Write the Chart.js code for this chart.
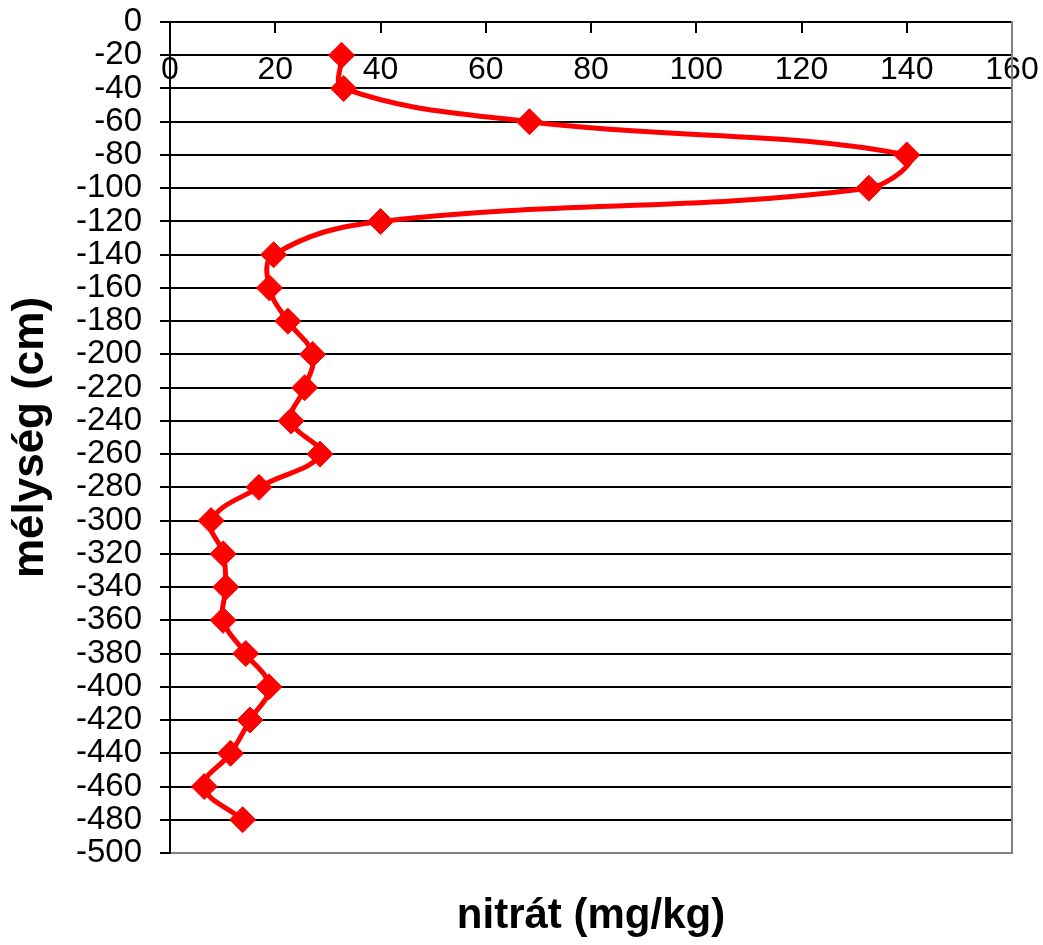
<!DOCTYPE html>
<html lang="hu">
<head>
<meta charset="utf-8">
<title>Nitrát a talajszelvényben</title>
<script src="https://cdn.jsdelivr.net/npm/chart.js@4.4.1/dist/chart.umd.min.js"></script>
<style>
  html, body { margin: 0; padding: 0; background: #ffffff; }
  canvas { display: block; }
</style>
</head>
<body>
<canvas id="chart" width="1043" height="945"></canvas>
<script>
// Sampling depth of each soil layer (cm, negative = below surface)
const depths = [-20, -40, -60, -80, -100, -120, -140, -160, -180, -200, -220, -240,
                -260, -280, -300, -320, -340, -360, -380, -400, -420, -440, -460, -480];

// Nitrate content measured in each layer (mg/kg)
const nitrate = [32.6, 33.0, 68.3, 140.0, 132.8, 40.0, 19.7, 18.9, 22.4, 27.1, 25.6, 23.0,
                 28.5, 16.9, 7.8, 10.1, 10.6, 10.1, 14.4, 18.8, 15.2, 11.5, 6.5, 13.8];

// Axis tick values
const nitrateTicks = [0, 20, 40, 60, 80, 100, 120, 140, 160];
const depthTicks = [-500, -480, -460, -440, -420, -400, -380, -360, -340, -320, -300, -280, -260,
                    -240, -220, -200, -180, -160, -140, -120, -100, -80, -60, -40, -20, 0];

const FONT = "'Liberation Sans', Arial, sans-serif";
const RED = '#ff0000';
const FRAME_GREY = '#808080';

new Chart(document.getElementById('chart'), {
  type: 'scatter',
  data: {
    datasets: [{
      label: 'nitrát',
      data: depths.map((d, i) => ({ x: nitrate[i], y: d })),
      showLine: true,
      borderColor: RED,
      backgroundColor: RED,
      borderWidth: 5,
      tension: 0.4,
      pointStyle: 'rectRot',
      pointRadius: 13,
      pointBorderWidth: 1,
      pointBackgroundColor: RED,
      pointBorderColor: RED,
      xAxisID: 'x',
      yAxisID: 'y'
    }]
  },
  options: {
    responsive: false,
    animation: false,
    events: [],
    layout: { padding: { top: 22, right: 31, bottom: 0, left: 0 } },
    plugins: {
      legend: { display: false },
      tooltip: { enabled: false }
    },
    scales: {
      // value axis crossing the depth axis at 0, labels hanging below it
      x: {
        type: 'linear',
        position: { y: 0 },
        min: 0,
        max: 160,
        afterBuildTicks: s => { s.ticks = nitrateTicks.map(v => ({ value: v })); },
        afterFit: s => { s.paddingLeft = 0; s.paddingRight = 0; },
        ticks: {
          font: { family: FONT, size: 32 },
          color: '#000',
          padding: 19,
          maxRotation: 0,
          autoSkip: false,
          callback: v => String(v)
        },
        grid: { drawOnChartArea: false, tickLength: 10, color: '#000', lineWidth: 2 },
        border: { color: '#000', width: 2 }
      },
      // carries the horizontal axis title under the plot
      xTitle: {
        type: 'linear',
        position: 'bottom',
        min: 0,
        max: 160,
        ticks: { display: false },
        grid: { display: false, drawTicks: false },
        border: { display: false },
        title: {
          display: true,
          text: 'nitrát (mg/kg)',
          color: '#000',
          font: { family: FONT, size: 42, weight: 'bold' },
          padding: { top: 0, bottom: 3 }
        },
        afterFit: s => { s.height = 92; }
      },
      y: {
        type: 'linear',
        position: 'left',
        min: -500,
        max: 0,
        afterBuildTicks: s => { s.ticks = depthTicks.map(v => ({ value: v })); },
        ticks: {
          font: { family: FONT, size: 33 },
          color: '#000',
          padding: 18,
          autoSkip: false,
          callback: v => String(v)
        },
        grid: {
          color: c => (c.tick && c.tick.value === -500 ? FRAME_GREY : '#000'),
          tickColor: '#000',
          lineWidth: 2,
          tickLength: 10
        },
        border: { color: '#000', width: 2 },
        title: {
          display: true,
          text: 'mélység (cm)',
          color: '#000',
          font: { family: FONT, size: 44, weight: 'bold' },
          padding: { top: 4, bottom: 0 }
        },
        afterFit: s => { s.width = 170; s.paddingTop = 0; s.paddingBottom = 0; }
      },
      // right-hand frame line of the plot area
      yFrame: {
        type: 'linear',
        position: 'right',
        min: -500,
        max: 0,
        ticks: { display: false },
        grid: { display: false, drawTicks: false },
        border: { color: FRAME_GREY, width: 2 },
        afterFit: s => { s.width = 0; s.paddingTop = 0; s.paddingBottom = 0; }
      }
    }
  }
});
</script>
</body>
</html>
